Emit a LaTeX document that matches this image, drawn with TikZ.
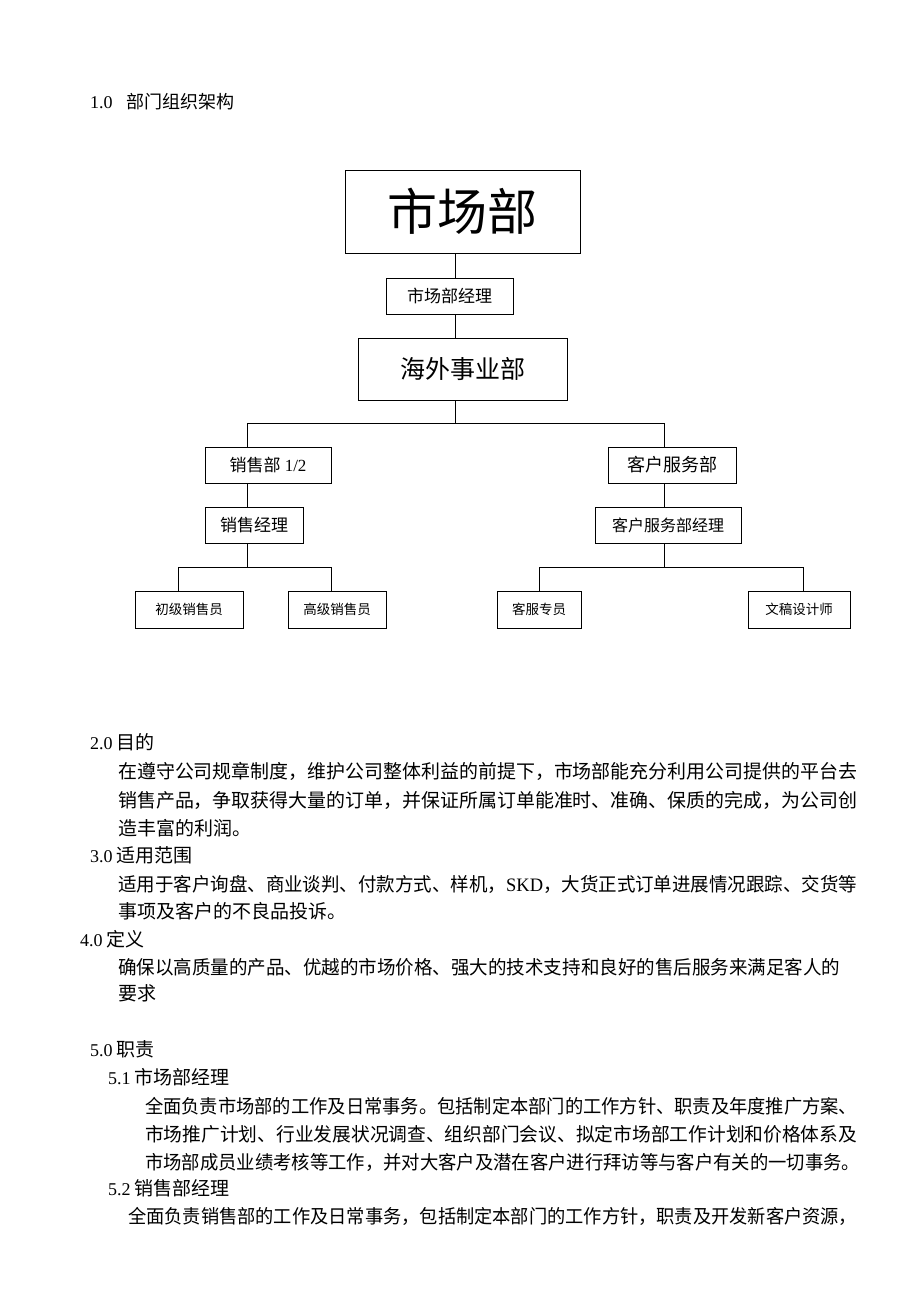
\documentclass[tikz,border=0pt]{standalone}
\usepackage{fontspec}
\usepackage{graphicx}
\setmainfont{Liberation Serif}
\newfontfamily\cjk{Noto Sans CJK SC}
\newcommand\fs[1]{\fontsize{#1pt}{#1pt}\selectfont}
\newcommand\jline[2]{\resizebox{#1pt}{\height}{#2}}
\begin{document}
\begin{tikzpicture}[x=1pt,y=-1pt,
  box/.style={draw,line width=0.8pt,inner sep=0pt,align=center},
  conn/.style={line width=0.8pt},
  txt/.style={anchor=base west,inner sep=0pt},
  body/.style={txt,font=\fs{19}\cjk},
  head/.style={txt,font=\fs{18}}]
\useasboundingbox (0,0) rectangle (920,1302);
\fill[white] (0,0) rectangle (920,1302);

% ---------- title ----------
\node[head] (t1) at (90,108.5) {1.0\hspace{14pt}{\cjk\fs{18}部门组织架构}};

% ---------- org chart ----------
\node[box,minimum width=235pt,minimum height=83pt,font=\fs{50}\cjk] (top) at (462.5,211.5) {市场部};
\node[box,minimum width=127pt,minimum height=36pt,font=\fs{17}\cjk] (mgr) at (449.5,296) {市场部经理};
\node[box,minimum width=209pt,minimum height=62pt,font=\fs{25}\cjk] (ovs) at (462.5,369) {海外事业部};
\node[box,minimum width=126pt,minimum height=36pt,font=\fs{17}] (sales) at (268,465) {{\cjk 销售部} 1/2};
\node[box,minimum width=98pt,minimum height=36pt,font=\fs{17}\cjk] (smgr) at (254,525) {销售经理};
\node[box,minimum width=108pt,minimum height=37pt,font=\fs{13.5}\cjk] (jr) at (189,609.5) {初级销售员};
\node[box,minimum width=98pt,minimum height=37pt,font=\fs{13.5}\cjk] (sr) at (337,609.5) {高级销售员};
\node[box,minimum width=128pt,minimum height=36pt,font=\fs{18}\cjk] (cs) at (672,465) {客户服务部};
\node[box,minimum width=146pt,minimum height=36pt,font=\fs{16}\cjk] (cmgr) at (668,525) {客户服务部经理};
\node[box,minimum width=84pt,minimum height=37pt,font=\fs{13.5}\cjk] (kf) at (539,609.5) {客服专员};
\node[box,minimum width=102pt,minimum height=37pt,font=\fs{13.5}\cjk] (wg) at (799,609.5) {文稿设计师};

\coordinate (sx) at (455,0);
\coordinate (lx) at (247,0);
\coordinate (rx) at (664,0);
\coordinate (bar) at (0,423);
\coordinate (lbar) at (0,567);
\coordinate (jx) at (178,0);
\coordinate (sxr) at (331,0);
\coordinate (kx) at (539,0);
\coordinate (wx) at (803,0);

\draw[conn] (top.south -| sx) -- (mgr.north -| sx);
\draw[conn] (mgr.south -| sx) -- (ovs.north -| sx);
\draw[conn] (ovs.south -| sx) -- (sx |- bar);
\draw[conn] (sales.north -| lx) -- (lx |- bar) -- (rx |- bar) -- (cs.north -| rx);
\draw[conn] (sales.south -| lx) -- (smgr.north -| lx);
\draw[conn] (smgr.south -| lx) -- (lx |- lbar);
\draw[conn] (jr.north -| jx) -- (jx |- lbar) -- (sxr |- lbar) -- (sr.north -| sxr);
\draw[conn] (cs.south -| rx) -- (cmgr.north -| rx);
\draw[conn] (cmgr.south -| rx) -- (rx |- lbar);
\draw[conn] (kf.north -| kx) -- (kx |- lbar) -- (wx |- lbar) -- (wg.north -| wx);

% ---------- text ----------
\node[head] (h2) at (90,749) {2.0\hspace{4pt}{\cjk\fs{19}目的}};
\node[body] (p21) at (118,778) {\jline{739}{在遵守公司规章制度，维护公司整体利益的前提下，市场部能充分利用公司提供的平台去}};
\node[body] (p22) at (118,807) {\jline{739}{销售产品，争取获得大量的订单，并保证所属订单能准时、准确、保质的完成，为公司创}};
\node[body] (p23) at (118,835) {造丰富的利润。};

\node[head] (h3) at (90,862) {3.0\hspace{4pt}{\cjk\fs{19}适用范围}};
\node[body] (p31) at (118,891) {\jline{739}{适用于客户询盘、商业谈判、付款方式、样机，{\rmfamily SKD}，大货正式订单进展情况跟踪、交货等}};
\node[body] (p32) at (118,918) {事项及客户的不良品投诉。};

\node[head] (h4) at (80,946) {4.0\hspace{4pt}{\cjk\fs{19}定义}};
\node[body] (p41) at (118,974) {\jline{722}{确保以高质量的产品、优越的市场价格、强大的技术支持和良好的售后服务来满足客人的}};
\node[body] (p42) at (118,1000) {要求};

\node[head] (h5) at (90,1056) {5.0\hspace{4pt}{\cjk\fs{19}职责}};
\node[head] (h51) at (108,1084) {5.1\hspace{4pt}{\cjk\fs{19}市场部经理}};
\node[body] (p511) at (145,1113) {\jline{712}{全面负责市场部的工作及日常事务。包括制定本部门的工作方针、职责及年度推广方案、}};
\node[body] (p512) at (145,1141) {\jline{712}{市场推广计划、行业发展状况调查、组织部门会议、拟定市场部工作计划和价格体系及}};
\node[body] (p513) at (145,1169) {\jline{715}{市场部成员业绩考核等工作，并对大客户及潜在客户进行拜访等与客户有关的一切事务。}};
\node[head] (h52) at (108,1195) {5.2\hspace{4pt}{\cjk\fs{19}销售部经理}};
\node[body] (p521) at (128,1223) {\jline{729}{全面负责销售部的工作及日常事务，包括制定本部门的工作方针，职责及开发新客户资源，}};
\end{tikzpicture}
\end{document}
